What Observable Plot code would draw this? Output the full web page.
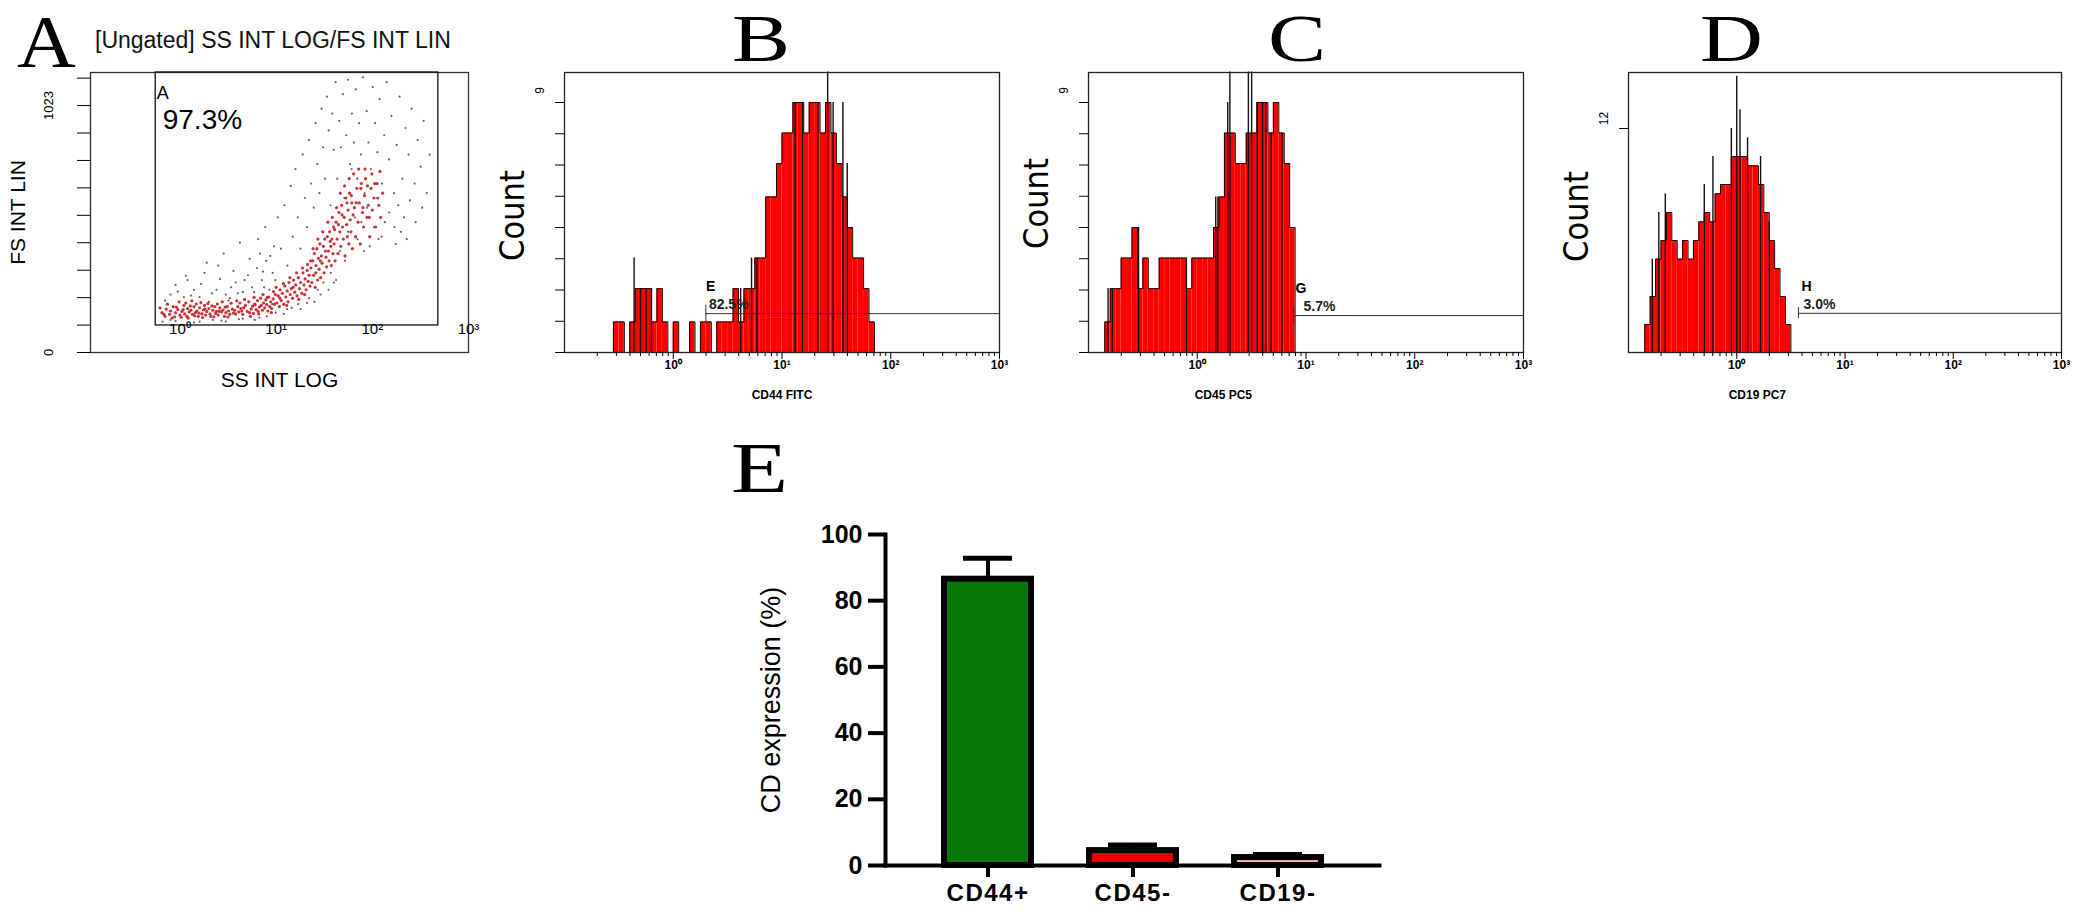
<!DOCTYPE html>
<html>
<head>
<meta charset="utf-8">
<script src="https://cdn.jsdelivr.net/npm/d3@7"></script>
<script src="https://cdn.jsdelivr.net/npm/@observablehq/plot@0.6"></script>
<style>
  body { margin: 0; background: #fff; }
  #fig { position: relative; width: 2076px; height: 915px; font-family: "Liberation Sans", Arial, sans-serif; }
  .pane { position: absolute; }
  .big { position: absolute; top: 0; font-family: "Liberation Serif", "Times New Roman", serif; font-size: 67px; line-height: normal; color: #000;
         transform: scaleX(1.3); transform-origin: left top; }
  .ttl { position: absolute; font-size: 23px; line-height: 1; color: #111; }
  #e g[aria-label="x-axis tick label"] text { letter-spacing: 1.5px; }
</style>
</head>
<body>
<div id="fig">
  <div class="big" style="left:17px; font-size:74px; transform: scaleX(1.1);">A</div>
  <div class="ttl" style="left:95px; top:29px;">[Ungated] SS INT LOG/FS INT LIN</div>
  <div class="big" style="left:732px;">B</div>
  <div class="big" style="left:1268px;">C</div>
  <div class="big" style="left:1700px;">D</div>
  <div class="big" style="left:731px; top:427px; font-size:72px;">E</div>
  <div class="pane" id="a" style="left:0px; top:60px; width:480px;"></div>
  <div class="pane" id="b" style="left:480px; top:60px; width:530px;"></div>
  <div class="pane" id="c" style="left:1010px; top:60px; width:530px;"></div>
  <div class="pane" id="d" style="left:1540px; top:60px; width:536px;"></div>
  <div class="pane" id="e" style="left:700px; top:500px; width:720px;"></div>
</div>
<script>
// panel A: SS (log) vs FS (lin)
const bandA = [
  [0.65,165],[0.7,150],[0.72,180],[0.78,158],[0.8,172],[0.85,190],[0.88,148],[0.9,165],[0.95,178],[1.0,155],
  [1.05,170],[1.1,195],[1.12,160],[1.18,150],[1.2,182],[1.25,168],[1.3,175],[1.35,158],[1.4,190],[1.45,165],
  [1.5,172],[1.55,150],[1.6,185],[1.7,160],[1.75,176],[1.8,195],[1.85,155],[1.9,170],[2.0,182],[2.05,160],
  [2.1,150],[2.2,175],[2.3,190],[2.35,162],[2.4,170],[2.5,155],[2.6,185],[2.7,168],[2.8,176],[2.9,150],
  [3.0,165],[3.1,190],[3.2,172],[3.3,158],[3.5,180],
  [0.62,185],[0.68,158],[0.74,200],[0.83,143],[0.92,188],[0.98,210],[1.03,146],[1.08,178],[1.15,205],[1.22,142],
  [1.28,193],[1.33,214],[1.42,152],[1.48,201],[1.58,163],[1.65,207],[1.72,145],[1.82,180],[1.95,203],[2.15,193],
  [2.25,148],[2.45,201],[2.55,171],[2.75,210],[2.95,188],[3.15,147],[3.4,204],[3.6,163],[3.9,214],[4.3,182],
  [3.7,175],[3.8,160],[4.0,190],[4.1,168],[4.2,205],[4.4,172],[4.5,158],[4.6,185],[4.8,195],[5.0,170],
  [5.2,210],[5.3,165],[5.5,180],[5.7,192],[5.8,162],[6.0,200],[6.2,178],[6.4,215],[6.5,170],[6.7,188],
  [6.9,225],[7.0,195],[7.2,175],[7.4,205],[7.6,185],[7.8,218],[8.0,198],[8.2,172],[8.4,230],[8.6,190],
  [8.8,210],[9.0,182],[9.3,222],[9.6,200],[9.8,240],
  [4.7,220],[5.4,150],[5.9,228],[6.6,160],[7.3,240],[8.1,228],[8.9,165],[9.4,252],[10,270],[10.9,225],
  [11.9,285],[12.9,195],[13.9,310],[15,270],[16.3,330],[17.2,220],[18.8,350],[19.8,240],[21.2,365],
  [10.2,205],[10.5,235],[10.8,190],[11,260],[11.3,215],[11.6,245],[12,200],[12.3,275],[12.6,230],[13,255],
  [13.3,210],[13.6,290],[14,240],[14.4,265],[14.8,225],[15.2,300],[15.6,250],[16,280],[16.5,235],[17,310],
  [17.5,265],[18,290],[18.5,245],[19,330],[19.5,280],[20,305],[20.5,260],[21,340],[21.5,295],[22,320],[22.5,275],
  [23,350],[23.5,290],[24,380],[24.5,320],[25,410],[25.5,270],[26,360],[26.5,430],[27,300],[27.5,390],
  [28,345],[28.5,450],[29,310],[29.5,400],[30,370],[31,440],[31.5,330],[32,470],[33,395],[33.5,355],
  [34,480],[35,420],[35.5,380],[36,500],[37,440],[37.5,360],[38,470],[39,410],[39.5,520],
  [22.8,380],[24.2,430],[25.8,330],[27.2,470],[28.8,380],[30.5,500],[32.5,420],[34.5,540],[36.5,460],[38.5,560],
  [40,450],[41,380],[42,540],[43,470],[44,410],[45,580],[46,500],[47,440],[48,610],[49,520],
  [50,470],[51,560],[52,400],[53,640],[54,530],[55,480],[56,590],[57,450],[58,660],[59,550],
  [60,500],[61,620],[62,430],[63,570],
  [40.5,510],[42.5,600],[44.5,530],[46.5,660],[48.5,570],[51.5,690],[54.5,620],[57.5,720],[60.5,650],[64,740],
  [65,600],[67,480],[69,680],[71,540],[73,620],[75,450],[77,700],[79,580],[81,520],[83,650],
  [85,720],[88,560],[91,610],[94,480],[97,680],[100,590],[104,640],[108,520],[112,700],[117,610],[122,560],[128,660],
  [68,620],[72,760],[76,680],[80,600],[84,760],[89,690],[93,560],[99,740],[106,700],[114,640],[120,750]
]
const sparseA = [
  [0.7,215],[0.95,252],[1.15,318],[1.3,236],[1.65,284],[1.9,372],[2.15,245],[2.6,305],[2.85,410],[3.4,270],
  [3.6,338],[4.2,455],[4.7,300],[5.3,388],[5.9,250],[6.5,470],[7.3,335],[7.7,520],[8.7,400],[9.8,300],
  [10.4,560],[11.2,430],[12.2,610],[13.1,360],[14.2,690],[14.9,480],[15.9,760],[16.8,560],[17.9,430],[18.9,820],
  [19.9,640],[20.9,520],[21.9,880],[23.1,700],[24.6,600],[25.7,950],[26.8,780],[28.2,660],[29.7,1010],[30.8,850],
  [32.3,720],[33.7,1060],[35.2,920],[36.8,610],[38.3,990],[39.7,840],[41.5,1120],[43.2,720],[45.3,960],[47.1,850],
  [49.4,1070],[51.2,640],[53.6,900],[56.1,1130],[58.7,780],[61.3,990],[64.5,870],[67.2,1090],[69.8,720],[72.9,950],
  [76.3,820],[79.8,1140],[83.1,660],[87.4,1000],[91.2,870],[96.5,760],[101,1100],[107,950],[113,830],[119,1050],
  [126,700],[133,900],[141,1120],[149,800],[158,980],[168,660],[179,860],[192,1060],[205,720],[221,930],
  [238,820],[256,1010],[275,700],[296,880],[318,770],[342,960],[368,660],[395,820],[150,580],[170,520],
  [186,610],[214,560],[246,630],[282,540],[330,600],[125,480],[135,540],[175,450],[198,500],[228,470],
  [61,760],[66,560],[77,540],[88,600],[94,440],[104,520],[116,470],[56,500],[46,420],[52,380],
  [37,330],[42,300],[27,260],[31,290],[22,225],[17,200],[13,180],[9.1,200],[6.1,195],[3.3,225],
  [1.1,230],[0.8,135],[1.6,128],[2.7,132],[4.1,138],[6.7,145],[9.9,165],[14.5,185],[21,205],[29,240],
  [40,290],[0.66,128],[70,470],[82,420],
  [1.6,230],[2.4,260],[3.2,215],[3.8,290],[4.5,250],[5.1,320],[5.6,270],[6.3,350],[7.1,300],[7.9,380],
  [8.5,260],[9.2,330],[2.0,210],[4.0,245],[6.8,410],[9.5,440],[3.0,240],[7.5,270],
  [0.8,240],[1.2,300],[1.8,330],[2.5,360],[0.9,280],[1.4,260],
  [0.9,130],[1.4,125],[2.2,135],[3.0,128],[4.5,140],[6.0,135],[8,150],[12,160],[18,180],[25,210],[35,260]
]
const gateA = {name: "A", pct: "97.3%", x1: 0.56, x2: 486, y1: 112, y2: 1160}
const ssTicks = [1, 10, 100, 1000]

// histograms: [log10 bin start, count]
const histB = [
  [-0.55,1.1],[-0.5,1.1],[-0.45,0],[-0.4,1.1],[-0.35,2.3],[-0.3,2.3],[-0.25,2.3],[-0.2,1.1],[-0.15,2.3],[-0.1,1.1],
  [-0.05,0],[0,1.1],[0.05,0],[0.1,0],[0.15,1.1],[0.2,0],[0.25,1.1],[0.3,1.1],[0.35,0],[0.4,1.1],
  [0.45,1.1],[0.5,1.1],[0.55,2.3],[0.6,1.1],[0.65,2.3],[0.7,2.3],[0.75,3.4],[0.8,3.4],[0.85,5.6],[0.9,5.6],
  [0.95,6.8],[1,7.9],[1.05,7.9],[1.1,9],[1.15,9],[1.2,7.9],[1.25,9],[1.3,9],[1.35,7.9],[1.4,9],
  [1.45,7.9],[1.5,6.8],[1.55,5.6],[1.6,4.5],[1.65,3.4],[1.7,3.4],[1.75,2.3],[1.8,1.1]
]
const spikesB = [[-0.36,3.4],[-0.3,2.3],[-0.25,2.3],[-0.2,2.3],[0.62,2.3],[0.72,3.4],[0.77,3.4],
  [1.12,9],[1.19,9],[1.33,9],[1.42,10.1],[1.47,9],[1.56,9],[1.6,6.8]]
const histC = [
  [-0.85,1.1],[-0.8,2.3],[-0.75,2.3],[-0.7,3.4],[-0.65,3.4],[-0.6,4.5],[-0.55,2.3],[-0.5,3.4],[-0.45,2.3],[-0.4,2.3],
  [-0.35,3.4],[-0.3,3.4],[-0.25,3.4],[-0.2,3.4],[-0.15,3.4],[-0.1,2.3],[-0.05,3.4],[0,3.4],[0.05,3.4],[0.1,3.4],
  [0.15,4.5],[0.2,5.6],[0.25,7.9],[0.3,7.9],[0.35,6.8],[0.4,6.8],[0.45,7.9],[0.5,7.9],[0.55,9],[0.6,9],
  [0.65,7.9],[0.7,9],[0.75,7.9],[0.8,6.8],[0.85,4.5]
]
const spikesC = [[-0.82,2.3],[-0.78,2.3],[-0.54,4.5],[-0.1,3.4],[0.17,5.6],[0.19,5.6],[0.28,9],[0.3,10.1],
  [0.47,10.1],[0.5,10.1],[0.55,9],[0.6,9],[0.63,9],[0.68,7.9],[0.78,7.9]]
const histD = [
  [-0.85,1.5],[-0.8,3],[-0.75,5],[-0.7,6],[-0.65,7.5],[-0.6,6],[-0.55,5],[-0.5,6],[-0.45,5],[-0.4,6],
  [-0.35,7],[-0.3,7.5],[-0.25,7],[-0.2,8.5],[-0.15,9],[-0.1,9],[-0.05,10.5],[0,10.5],[0.05,10.5],[0.1,10],
  [0.15,10],[0.2,9],[0.25,7.5],[0.3,6],[0.35,4.5],[0.4,3],[0.45,1.5]
]
const spikesD = [[-0.78,5],[-0.72,7.5],[-0.66,8.5],[-0.3,9],[-0.22,10.5],[-0.05,12],[0,14.8],[0.03,13],
  [0.1,11.5],[0.22,10.5],[0.3,7]]

const gateB = {name: "E", pct: "82.5%", start: 0.30, level: 1.4}
const gateC = {name: "G", pct: "5.7%", start: 0.885, level: 1.33}
const gateD = {name: "H", pct: "3.0%", start: 0.57, level: 2.1}

// panel E
const cdLabels = ["CD44+", "CD45-", "CD19-"]
const cdMean = [86.5, 4.5, 2.4]
const cdSem = [6.3, 1.7, 0.9]
const cdFill = ["#067806", "#e00000", "#f6b1a6"]

const W = 0.05 // bin width (log10)
const sup = {"-1": "⁻¹", "0": "⁰", "1": "¹", "2": "²", "3": "³"}
const pow10 = d => "10" + sup[Math.round(Math.log10(d))]
const minor = [-1, 0, 1, 2].flatMap(e => d3.range(2, 10).map(k => k * 10 ** e))
const font = "Liberation Sans, Arial, sans-serif"
const narrow = "Liberation Sans Narrow, DejaVu Sans Condensed, Arial Narrow, sans-serif"

// dot plot A
let chartA = Plot.plot({
  width: 480, height: 340,
  marginLeft: 90, marginRight: 12, marginTop: 12, marginBottom: 48,
  style: {fontFamily: font, background: "transparent", overflow: "visible"},
  x: {type: "log", domain: [0.1175, 1000], axis: null},
  y: {domain: [0, 1160], axis: null},
  marks: [
    Plot.dot(sparseA, {x: d => d[0], y: d => d[1], r: 1.1, fill: "#6a3a3a", fillOpacity: 0.85}),
    Plot.dot(bandA, {x: d => d[0], y: d => d[1], r: 1.6, fill: "#c41e1e", fillOpacity: 0.9}),
    Plot.frame({stroke: "#333", strokeWidth: 1.3}),
    Plot.rect([gateA], {x1: "x1", x2: "x2", y1: "y1", y2: "y2", fill: "none", stroke: "#111", strokeWidth: 1.3}),
    Plot.text([gateA], {x: "x1", y: "y2", text: "name", dx: 1, dy: 21, textAnchor: "start", fontSize: 18}),
    Plot.text([gateA], {x: "x1", y: "y2", text: "pct", dx: 7, dy: 48, textAnchor: "start", fontSize: 28}),
    Plot.axisY({ticks: d3.range(0, 11).map(i => i * 1023 / 9), tickSize: 13, tickFormat: () => "", label: null}),
    Plot.text([0, 1023], {y: d => d, text: d => String(d), frameAnchor: "left", textAnchor: "middle", dx: -42, rotate: -90, fontSize: 13}),
    Plot.text(["FS INT LIN"], {frameAnchor: "left", textAnchor: "middle", dx: -72, rotate: -90, fontSize: 21}),
    Plot.text(ssTicks, {x: d => d, text: pow10, frameAnchor: "bottom", dy: -19, fontSize: 15}),
    Plot.text(["SS INT LOG"], {frameAnchor: "bottom", dy: 34, fontSize: 21})
  ]
})

// histogram panels B, C, D
function histPlot(hist, spikes, gate, cfg) {
  let bars = hist.map(([lo, n]) => ({x1: 10 ** lo, x2: 10 ** (lo + W), n}))
  let last = bars[bars.length - 1]
  let outline = [{x: bars[0].x1, n: 0}, ...bars.map(b => ({x: b.x1, n: b.n})), {x: last.x2, n: last.n}, {x: last.x2, n: 0}]
  return Plot.plot({
    width: cfg.width, height: 340,
    marginLeft: cfg.left, marginRight: cfg.right, marginTop: 12, marginBottom: 48,
    style: {fontFamily: font, background: "transparent", overflow: "visible"},
    x: {type: "log", domain: [0.1, 1000]},
    y: {domain: [0, cfg.yMax]},
    marks: [
      Plot.rect(bars, {x1: "x1", x2: "x2", y1: 0, y2: "n", fill: "#ff0000"}),
      Plot.line(outline, {x: "x", y: "n", curve: "step-after", stroke: "#1a0000", strokeWidth: 1}),
      Plot.ruleX(spikes, {x: d => 10 ** d[0], y1: 0, y2: d => d[1], stroke: "#111", strokeWidth: 1.4}),
      Plot.ruleY([gate], {x1: d => 10 ** d.start, x2: 1000, y: "level", stroke: "#333", strokeWidth: 1}),
      Plot.ruleX([gate], {x: d => 10 ** d.start, y1: d => d.level - 0.3, y2: d => d.level + 0.3, stroke: "#333"}),
      Plot.text([gate], {x: d => 10 ** d.start, y: "level", text: "name", dx: cfg.nameDx, dy: -27, textAnchor: "start", fontSize: 14, fontWeight: "bold"}),
      Plot.text([gate], {x: d => 10 ** d.start, y: "level", text: "pct", dx: cfg.pctDx, dy: -9, textAnchor: "start", fontSize: 14, fontWeight: "bold", fill: "#222"}),
      Plot.frame({stroke: "#222", strokeWidth: 1.3}),
      Plot.axisY({ticks: cfg.yTicks, tickSize: 9, tickFormat: () => "", label: null}),
      Plot.text([cfg.yTop], {y: d => d, text: d => String(d), frameAnchor: "left", textAnchor: "middle", dx: -24, dy: cfg.topDy, rotate: -90, fontSize: 12}),
      Plot.text(["Count"], {frameAnchor: "left", textAnchor: "middle", dx: -51, dy: cfg.countDy, rotate: -90, fontSize: 34, fontFamily: narrow}),
      Plot.axisX({ticks: minor, tickSize: 4, tickFormat: () => "", label: null}),
      Plot.axisX({ticks: [1, 10, 100, 1000], tickSize: 7, tickPadding: 1, tickFormat: pow10, fontSize: 12, fontWeight: "bold", label: null}),
      Plot.text([cfg], {x: d => 10 ** d.labelAt, text: "xLabel", frameAnchor: "bottom", dy: 46, fontSize: 12, fontWeight: "bold"})
    ]
  })
}

const countTicks = d3.range(0, 9).map(i => i * 9 / 8)
let chartB = histPlot(histB, spikesB, gateB, {width: 530, left: 84, right: 11, yMax: 10.08, yTicks: countTicks, yTop: 9, topDy: -12,
  countDy: 3, nameDx: 0, pctDx: 3, xLabel: "CD44 FITC", labelAt: 1})
let chartC = histPlot(histC, spikesC, gateC, {width: 530, left: 78, right: 17, yMax: 10.08, yTicks: countTicks, yTop: 9, topDy: -12,
  countDy: -9, nameDx: 2, pctDx: 10, xLabel: "CD45 PC5", labelAt: 0.24})
let chartD = histPlot(histD, spikesD, gateD, {width: 536, left: 88, right: 15, yMax: 15, yTicks: [12], yTop: 12, topDy: -10,
  countDy: 4, nameDx: 3, pctDx: 5, xLabel: "CD19 PC7", labelAt: 0.19})

// bar chart E
let tableE = cdLabels.map((c, i) => ({cd: c, mean: cdMean[i], sem: cdSem[i], fill: cdFill[i]}))
let chartE = Plot.plot({
  width: 720, height: 415,
  marginLeft: 185, marginRight: 41, marginTop: 34, marginBottom: 50,
  style: {fontFamily: font, background: "transparent"},
  x: {domain: cdLabels, paddingInner: 0.4, paddingOuter: 0.4},
  y: {domain: [0, 100]},
  color: {type: "identity"},
  marks: [
    Plot.ruleX(tableE, {x: "cd", y1: "mean", y2: d => d.mean + d.sem, strokeWidth: 4}),
    Plot.tickY(tableE, {x: "cd", y: d => d.mean + d.sem, strokeWidth: 5, insetLeft: 19, insetRight: 19}),
    Plot.barY(tableE, {x: "cd", y: "mean", fill: "fill", stroke: "#000", strokeWidth: 6}),
    Plot.frame({anchor: "left", strokeWidth: 4}),
    Plot.frame({anchor: "bottom", strokeWidth: 4}),
    Plot.axisY({ticks: [0, 20, 40, 60, 80, 100], tickSize: 17, tickPadding: 6, strokeWidth: 4, fontSize: 25, fontWeight: "bold", label: null}),
    Plot.axisX({tickSize: 12, tickPadding: 6, strokeWidth: 4, fontSize: 24, fontWeight: "bold", label: null}),
    Plot.text(["CD expression (%)"], {frameAnchor: "left", textAnchor: "middle", dx: -114, rotate: -90, fontSize: 27})
  ]
})

d3.select("#a").append(() => chartA)
d3.select("#b").append(() => chartB)
d3.select("#c").append(() => chartC)
d3.select("#d").append(() => chartD)
d3.select("#e").append(() => chartE)
</script>
</body>
</html>
